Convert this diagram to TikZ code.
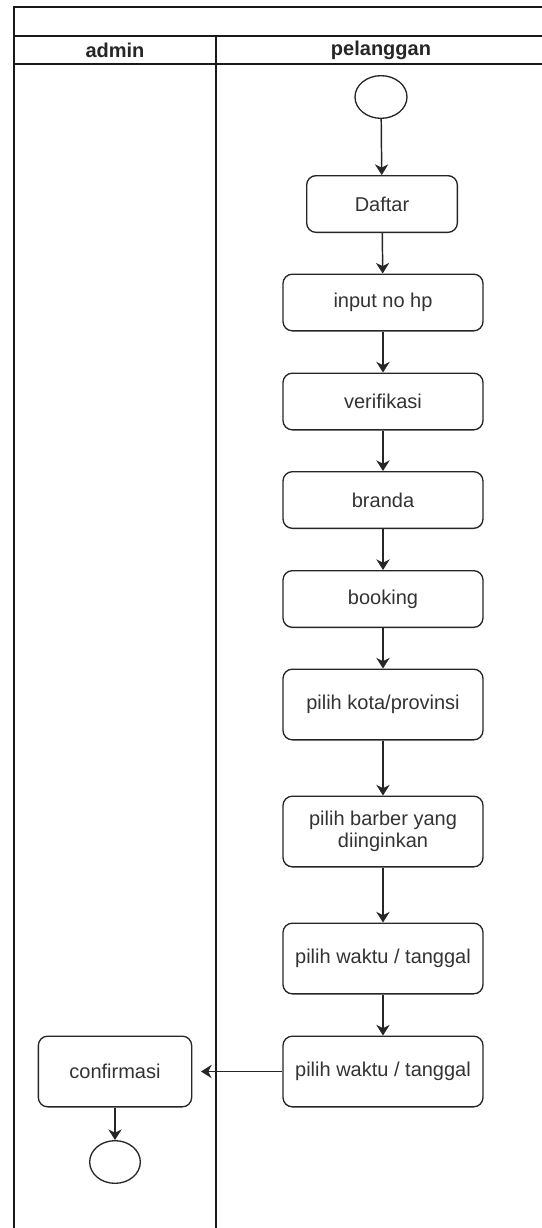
\documentclass[tikz,border=0pt]{standalone}
\usepackage{fontspec}
\setmainfont{Liberation Sans}
\usepackage{tikz}
\usetikzlibrary{arrows.meta,shapes.geometric}

\begin{document}
\begin{tikzpicture}[x=0.75pt,y=-0.75pt,>={Stealth[length=8pt,width=10pt,inset=2.5pt]},
lane/.style={line width=1.2pt,draw=black!90},
act/.style={draw=black!85,line width=1pt,rounded corners=7pt,minimum width=150pt,minimum height=42.5pt,align=center,text=black!80,font=\fontsize{15}{16.5}\selectfont},
bigact/.style={act,minimum height=53pt},
term/.style={draw=black!85,line width=1pt,ellipse,minimum width=39pt,minimum height=32pt,inner sep=0pt},
flow/.style={->,line width=1.1pt,draw=black!85}]
\useasboundingbox(0,0)rectangle(542,1228);
% swimlanes
\draw[lane](14,1240)--(14,7)--(560,7)
(14,36)--(560,36)
(14,64)--(560,64)
(216,36)--(216,1240);
\node[font=\bfseries\fontsize{15}{17}\selectfont,text=black!85](hadmin)at(115,50){admin};
\node[font=\bfseries\fontsize{15}{17}\selectfont,text=black!85](hplg)at(381,50){pelanggan};
% pelanggan
\node[term](mulai)at(381,97){};
\node[act,minimum width=113pt](daftar)at(382,204){Daftar};
\node[act](inputhp)at(383,302.5){input no hp};
\node[act](verif)at(383,401.5){verifikasi};
\node[act](branda)at(383,500){branda};
\node[act](booking)at(383,599){booking};
\node[bigact](kota)at(383,704.5){pilih kota/provinsi};
\node[bigact](barber)at(383,831.5){pilih barber yang\\diinginkan};
\node[bigact](waktua)at(383,958.5){pilih waktu / tanggal};
\node[bigact](waktub)at(383,1071.5){pilih waktu / tanggal};
% admin
\node[bigact,minimum width=115pt](konfirm)at(115,1071.5){confirmasi};
\node[term,minimum width=38pt](selesai)at(115,1162){};
\draw[flow](mulai)--(daftar);
\draw[flow](daftar)--(inputhp);
\draw[flow](inputhp)--(verif);
\draw[flow](verif)--(branda);
\draw[flow](branda)--(booking);
\draw[flow](booking)--(kota);
\draw[flow](kota)--(barber);
\draw[flow](barber)--(waktua);
\draw[flow](waktua)--(waktub);
\draw[flow,shorten >=6.5pt](waktub)--(konfirm);
\draw[flow](konfirm)--(selesai);
\end{tikzpicture}
\end{document}
